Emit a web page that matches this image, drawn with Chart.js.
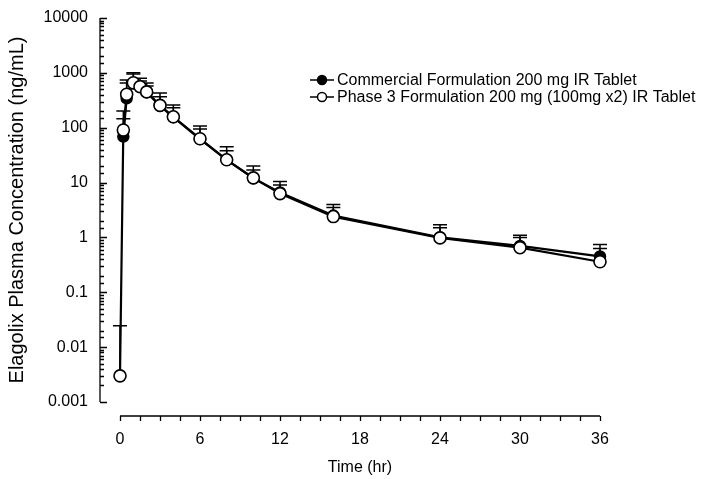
<!DOCTYPE html>
<html>
<head>
<meta charset="utf-8">
<script src="https://cdn.jsdelivr.net/npm/chart.js@4"></script>
<style>
  html, body { margin: 0; padding: 0; background: #fff; }
</style>
</head>
<body>
<canvas id="myChart" width="727" height="479"></canvas>
<script>
// sampling times (hr)
const times = [0, 0.25, 0.5, 1, 1.5, 2, 3, 4, 6, 8, 10, 12, 16, 24, 30, 36];

// mean and mean+SD (ng/mL)
const commercialMean  = [null, 69, 345, 640, 560, 445, 250, 155, 62, 26, 12, 6.6, 2.5, 1.0, 0.7, 0.45];
const commercialUpper = [null, 202, 742, 1000, 800, 655, 430, 260, 107, 45, 20, 10.5, 4.0, 1.7, 1.1, 0.74];
const phase3Mean  = [0.003, 91, 408, 660, 560, 450, 255, 158, 63, 26, 12.2, 6.3, 2.4, 0.98, 0.65, 0.36];
const phase3Upper = [0.0245, 145, 650, 950, 710, 575, 365, 230, 95, 38, 17, 9, 3.5, 1.5, 1.0, 0.63];

const seriesNames = [
    "Commercial Formulation 200 mg IR Tablet",
    "Phase 3 Formulation 200 mg (100mg x2) IR Tablet"
];
const yDecades = [0.001, 0.01, 0.1, 1, 10, 100, 1000, 10000];
const xLabelEvery = 6;

const FONT = "'Liberation Sans', Arial, sans-serif";

let myChart = document.querySelector("#myChart");

// error bars (upper only), drawn under the markers
const errorBars = {
    id: "errorBars",
    beforeDatasetsDraw(chart) {
        const { ctx } = chart;
        const xs = chart.scales.x, ys = chart.scales.y;
        ctx.save();
        ctx.strokeStyle = "#000";
        ctx.lineWidth = 1.5;
        chart.data.datasets.forEach(ds => {
            ds.upper.forEach((u, i) => {
                const m = ds.data[i].y;
                if (u == null || m == null) return;
                const px = xs.getPixelForValue(times[i]);
                const top = ys.getPixelForValue(u);
                ctx.beginPath();
                ctx.moveTo(px, ys.getPixelForValue(m));
                ctx.lineTo(px, top);
                ctx.moveTo(px - 7, top);
                ctx.lineTo(px + 7, top);
                ctx.stroke();
            });
        });
        ctx.restore();
    }
};

// offset axes with inward y ticks, like the original plot
const offsetAxes = {
    id: "offsetAxes",
    afterDraw(chart) {
        const { ctx, chartArea } = chart;
        const xs = chart.scales.x, ys = chart.scales.y;
        const ax = chartArea.left - 20;
        const ay = chartArea.bottom + 14;
        ctx.save();
        ctx.strokeStyle = "#000";
        ctx.lineWidth = 1.3;
        ctx.beginPath();
        ctx.moveTo(ax, ys.top);
        ctx.lineTo(ax, ys.bottom);
        ys.ticks.forEach(t => {
            const py = Math.round(ys.getPixelForValue(t.value)) + 0.5;
            const lg = Math.log10(t.value);
            const major = Math.abs(lg - Math.round(lg)) < 1e-6;
            ctx.moveTo(ax, py);
            ctx.lineTo(ax + (major ? 7 : 4), py);
        });
        ctx.moveTo(xs.left, ay);
        ctx.lineTo(xs.right, ay);
        xs.ticks.forEach(t => {
            const px = Math.round(xs.getPixelForValue(t.value)) + 0.5;
            ctx.moveTo(px, ay);
            ctx.lineTo(px, ay + 5);
        });
        ctx.stroke();
        ctx.restore();
    }
};

// legend: line + marker + text
const lineLegend = {
    id: "lineLegend",
    afterDraw(chart) {
        const { ctx } = chart;
        const x0 = 310, rows = [80, 97];
        ctx.save();
        chart.data.datasets.forEach((ds, i) => {
            const y = rows[i];
            ctx.strokeStyle = "#000";
            ctx.lineWidth = 1.5;
            ctx.beginPath();
            ctx.moveTo(x0, y);
            ctx.lineTo(x0 + 24, y);
            ctx.stroke();
            ctx.beginPath();
            ctx.arc(x0 + 12, y, 4.5, 0, Math.PI * 2);
            ctx.fillStyle = ds.pointBackgroundColor;
            ctx.fill();
            ctx.stroke();
            ctx.fillStyle = "#000";
            ctx.font = "16px " + FONT;
            ctx.textBaseline = "middle";
            ctx.fillText(ds.label, x0 + 27, y + 1);
        });
        ctx.restore();
    }
};

const data = {
    datasets: [
        {
            label: seriesNames[0],
            data: times.map((t, i) => ({ x: t, y: commercialMean[i] })),
            upper: commercialUpper,
            borderColor: "#000",
            borderWidth: 2.2,
            pointRadius: 5.5,
            pointBorderWidth: 1.5,
            pointBackgroundColor: "#000",
            pointBorderColor: "#000",
            tension: 0,
            clip: false,
            order: 1
        },
        {
            label: seriesNames[1],
            data: times.map((t, i) => ({ x: t, y: phase3Mean[i] })),
            upper: phase3Upper,
            borderColor: "#000",
            borderWidth: 2.2,
            pointRadius: 6,
            pointBorderWidth: 1.6,
            pointBackgroundColor: "#fff",
            pointBorderColor: "#000",
            tension: 0,
            clip: false,
            order: 0
        }
    ]
};

let chart = new Chart(myChart, {
    type: "line",
    data: data,
    plugins: [errorBars, offsetAxes, lineLegend],
    options: {
        responsive: false,
        animation: false,
        devicePixelRatio: 1,
        layout: { padding: { top: 18, right: 127, left: 0, bottom: 0 } },
        scales: {
            x: {
                type: "linear",
                min: 0,
                max: 36,
                grid: { display: false, drawTicks: false, tickLength: 0 },
                border: { display: false },
                ticks: {
                    stepSize: 1.5,
                    autoSkip: false,
                    maxRotation: 0,
                    minRotation: 0,
                    padding: 28,
                    color: "#000",
                    font: { family: FONT, size: 16 },
                    callback: v => (Math.abs(v / xLabelEvery - Math.round(v / xLabelEvery)) < 1e-6 ? String(Math.round(v)) : "")
                },
                title: {
                    display: true,
                    text: "Time (hr)",
                    color: "#000",
                    font: { family: FONT, size: 16 },
                    padding: { top: 0, bottom: 2 }
                },
                afterFit: s => { s.height = 77; }
            },
            y: {
                type: "logarithmic",
                min: yDecades[0],
                max: yDecades[yDecades.length - 1],
                grid: { display: false, drawTicks: false, tickLength: 0 },
                border: { display: false },
                ticks: {
                    autoSkip: false,
                    padding: 32,
                    color: "#000",
                    font: { family: FONT, size: 16 },
                    callback: v => {
                        const d = yDecades.find(k => Math.abs(Math.log10(v) - Math.log10(k)) < 1e-6);
                        return d === undefined ? "" : (d < 1 ? d.toFixed(-Math.round(Math.log10(d))) : String(d));
                    }
                },
                title: {
                    display: true,
                    text: "Elagolix Plasma Concentration (ng/mL)",
                    color: "#000",
                    font: { family: FONT, size: 20 },
                    padding: { top: 5, bottom: 0 }
                },
                // tick padding is only for the label gap, not for the top/bottom margin
                afterFit: s => { s.width = 120; s.paddingTop = 8; s.paddingBottom = 8; }
            }
        },
        plugins: {
            legend: { display: false },
            tooltip: { enabled: false }
        }
    }
});
</script>
</body>
</html>
